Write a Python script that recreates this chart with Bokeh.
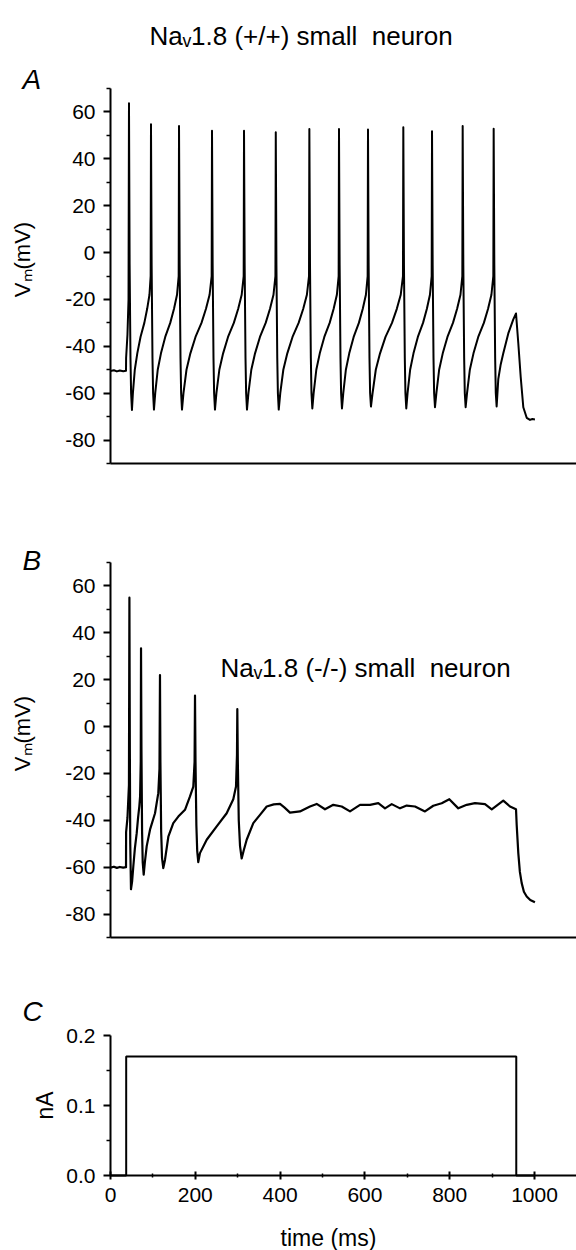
import math
from bokeh.plotting import figure
from bokeh.models import Range1d, FixedTicker, Label, LinearAxis
from bokeh.embed import file_html
from bokeh.resources import INLINE

FONT = "Liberation Sans"

# ---------------- data ----------------
# Panel A: Nav1.8 (+/+) membrane potential (ms, mV)
time_a = [0, 8, 15, 22, 30, 36.6, 36.8, 40, 42.5, 43.6,
          45.1, 47.1, 48.6, 50.6,
          52.8, 57.3, 63.2, 70.8, 79.8, 86.5, 91.9, 94.7, 95.5,
          97.0, 99.0, 100.5, 102.5,
          105.5, 111.4, 119.0, 129.1, 140.9, 149.8, 156.9, 160.8, 161.6,
          163.1, 165.1, 166.6, 168.6,
          172.1, 179.2, 188.4, 200.5, 214.6, 225.2, 233.7, 238.6, 239.4,
          240.9, 242.9, 244.4, 246.4,
          249.8, 256.7, 265.6, 277.2, 290.9, 301.2, 309.4, 314.1, 314.9,
          316.4, 318.4, 319.9, 321.9,
          325.3, 332.1, 340.9, 352.5, 366.0, 376.2, 384.4, 389.0, 389.8,
          391.3, 393.3, 394.8, 396.8,
          400.4, 407.6, 417.0, 429.3, 443.7, 454.6, 463.2, 468.2, 469.0,
          470.5, 472.5, 474.0, 476.0,
          479.1, 485.4, 493.6, 504.3, 516.9, 526.3, 533.9, 538.1, 538.9,
          540.4, 542.4, 543.9, 545.9,
          549.0, 555.1, 563.1, 573.5, 585.8, 595.0, 602.4, 606.5, 607.3,
          608.8, 610.8, 612.3, 614.3,
          618.1, 625.7, 635.7, 648.6, 663.9, 675.3, 684.5, 689.8, 690.6,
          692.1, 694.1, 695.6, 697.6,
          700.6, 706.7, 714.6, 724.9, 737.1, 746.2, 753.4, 757.5, 758.3,
          759.8, 761.8, 763.3, 765.3,
          768.6, 775.1, 783.6, 794.7, 807.7, 817.5, 825.4, 829.8, 830.6,
          832.1, 834.1, 835.6, 837.6,
          840.9, 847.5, 856.1, 867.3, 880.6, 890.5, 898.4, 902.9, 903.7,
          905.2, 907.2, 908.7, 910.7,
          914.6, 920, 926.4, 938.2, 950, 956.4, 961.8, 967.4, 973.6, 981.6, 989.4, 995, 1001]
vm_a = [-50.5, -50.2, -50.7, -50.3, -50.6, -50.4, -45, -35, -20, 63.7,
        -5, -45, -60, -67.2,
        -60, -50, -43, -36, -30, -24, -18, -10, 54.7,
        -5, -45, -60, -67,
        -60, -50, -43, -36, -30, -24, -18, -10, 54,
        -5, -45, -60, -67,
        -60, -50, -43, -36, -30, -24, -18, -10, 52,
        -5, -45, -60, -67,
        -60, -50, -43, -36, -30, -24, -18, -10, 52,
        -5, -45, -60, -67,
        -60, -50, -43, -36, -30, -24, -18, -10, 51.3,
        -5, -45, -60, -67,
        -60, -50, -43, -36, -30, -24, -18, -10, 52.7,
        -5, -45, -60, -66.5,
        -60, -50, -43, -36, -30, -24, -18, -10, 52.7,
        -5, -45, -60, -66.5,
        -60, -50, -43, -36, -30, -24, -18, -10, 52.5,
        -5, -45, -60, -65.7,
        -60, -50, -43, -36, -30, -24, -18, -10, 53.5,
        -5, -45, -60, -66.5,
        -60, -50, -43, -36, -30, -24, -18, -10, 51.8,
        -5, -45, -60, -66,
        -60, -50, -43, -36, -30, -24, -18, -10, 54,
        -5, -45, -60, -66,
        -60, -50, -43, -36, -30, -24, -18, -10, 52.8,
        -5, -45, -60, -65.7,
        -54, -48, -43, -34.5, -28.5, -26, -38.7, -53, -66, -70.5, -71.4, -71, -71.2]

# Panel B: Nav1.8 (-/-) membrane potential (ms, mV)
time_b = [0, 8, 15, 22, 30, 36.6, 36.8, 40, 43.5, 44.6,
          45.6, 46.6, 48.3,
          51, 53.8, 57.5, 61.8, 65, 68, 69.8, 71.3, 72,
          73, 74.5, 76, 78.3,
          81, 85.4, 93.2, 105, 112.7, 115.5, 116.7,
          117.7, 119.5, 121.5, 124.5,
          128.5, 136.4, 148.1, 159.9, 175.7, 187.5, 195.3, 198.3, 199.3,
          200.5, 202.5, 204.5, 207,
          211, 226.9, 250.5, 274, 289.6, 296, 298.3, 299.1,
          300.3, 302.5, 305.5, 309.4,
          314, 321.2, 336.8, 352.6, 368.4, 385, 399.8, 410, 423.3, 446.9,
          470.5, 486.3, 505.9, 525.5, 545.3, 564.9, 588.5, 612, 631.6, 647.4,
          663.2, 682.8, 698.6, 718.2, 741.7, 761.3, 781.1, 799.1, 820.3, 840.1,
          859.7, 883.3, 899.1, 926.4, 942.2, 956.4,
          958, 961.8, 965.5, 969.8, 975, 981.6, 990, 1001]
vm_b = [-60.2, -59.8, -60.3, -59.9, -60.2, -60, -45, -39, -25, 55,
        -10, -50, -69.4,
        -66, -59.7, -52, -45.5, -39, -34, -29.8, -15, 33.4,
        -10, -45, -58, -63.2,
        -58, -51, -44, -37, -28.4, -18, 22,
        -15, -45, -56, -60.4,
        -56.9, -47, -41.2, -38.4, -35.5, -29.8, -25.6, -15, 13.2,
        -15, -42, -53, -57.8,
        -54, -48.3, -42.6, -37, -31, -25.6, -12, 7.4,
        -15, -40, -51, -56.3,
        -53, -48.3, -41.2, -37.7, -34.1, -33.2, -33, -34.5, -36.7, -36.2,
        -34.1, -33, -35.3, -33.4, -34.1, -36.2, -33.4, -33.4, -32.7, -34.9,
        -33.1, -34.9, -33.7, -34.1, -36.2, -33.8, -32.7, -31, -34.9, -33.4,
        -32.7, -33.1, -35.3, -31.6, -34.1, -35.3,
        -42, -54, -62, -66.8, -70.5, -72.5, -74, -75]

# Panel C: injected current step (ms, nA)
time_c = [0, 37, 37, 957, 957, 1000]
current_c = [0, 0, 0.17, 0.17, 0, 0]

# ticks
vm_ticks = [-80, -60, -40, -20, 0, 20, 40, 60]
vm_minor = [-90, -70, -50, -30, -10, 10, 30, 50, 70]
na_ticks = [0.0, 0.1, 0.2]
na_labels = ["0.0", "0.1", "0.2"]
na_minor = [0.05, 0.15]
time_ticks = [0, 200, 400, 600, 800, 1000]
time_minor = [100, 300, 500, 700, 900]

# ---------------- page geometry (pixels) ----------------
W, H = 576, 1250
PX_PER_MS = 0.424
X0_PAGE = 110                       # page x of t = 0 ms
X_END = (W - X0_PAGE) / PX_PER_MS   # right edge of the axes in ms


def panel_range(v_low, v_high, page_low, page_high):
    """Range over the whole page height so that v_low sits at page_low, v_high at page_high."""
    k = (page_low - page_high) / (v_high - v_low)   # px per unit
    return Range1d(v_low - (H - page_low) / k, v_high + page_high / k)


p = figure(width=W, height=H, min_border=0,
           x_range=Range1d(-X0_PAGE / PX_PER_MS, X_END),
           y_range=Range1d(H, 0),          # page pixels, used for free texts
           x_axis_type=None, y_axis_type=None,
           toolbar_location=None, output_backend="svg")
p.outline_line_color = None
p.background_fill_color = "white"
p.border_fill_color = "white"
p.extra_x_ranges = {"page": Range1d(0, W)}
p.extra_y_ranges = {
    "A": panel_range(-90, 70, 463, 88),
    "B": panel_range(-90, 70, 937, 562),
    "C": panel_range(0, 0.2, 1175, 1035),
}


def style(ax):
    ax.axis_line_width = 2
    ax.axis_line_color = "black"
    ax.major_tick_line_width = 2
    ax.major_tick_line_color = "black"
    ax.minor_tick_line_width = 1.5
    ax.minor_tick_line_color = "black"
    ax.major_label_text_font = FONT
    ax.major_label_text_font_size = "21px"
    ax.major_label_text_color = "black"
    return ax


def y_axis(name, lo, hi, ticks, minor, labels):
    ax = style(LinearAxis(y_range_name=name, fixed_location=0, bounds=(lo, hi),
                          ticker=FixedTicker(ticks=ticks, minor_ticks=minor)))
    ax.major_label_overrides = dict(zip(ticks, labels))
    ax.major_tick_out = 7
    ax.major_tick_in = 0
    ax.minor_tick_out = 4
    ax.minor_tick_in = 0
    ax.major_label_standoff = 8
    p.add_layout(ax, "left")


def x_axis(name, at, ticks, minor):
    ax = style(LinearAxis(y_range_name=name, fixed_location=at, bounds=(0, X_END),
                          ticker=FixedTicker(ticks=ticks, minor_ticks=minor)))
    if ticks:
        ax.major_label_overrides = {t: str(t) for t in ticks}
        ax.major_tick_in = 4
        ax.major_tick_out = 4
        ax.minor_tick_in = 2
        ax.minor_tick_out = 2
        ax.major_label_standoff = 8
    else:
        ax.major_label_text_font_size = "0px"
        ax.major_tick_in = ax.major_tick_out = 0
        ax.minor_tick_in = ax.minor_tick_out = 0
    p.add_layout(ax, "below")


vm_labels = [str(t) for t in vm_ticks]
y_axis("A", -90, 70, vm_ticks, vm_minor, vm_labels)
x_axis("A", -90, [], [])
y_axis("B", -90, 70, vm_ticks, vm_minor, vm_labels)
x_axis("B", -90, [], [])
y_axis("C", 0, 0.2, na_ticks, na_minor, na_labels)
x_axis("C", 0, time_ticks, time_minor)

# traces
p.line(time_a, vm_a, y_range_name="A", line_color="black", line_width=2, line_join="round")
p.line(time_b, vm_b, y_range_name="B", line_color="black", line_width=2.2, line_join="round")
p.line(time_c, current_c, y_range_name="C", line_color="black", line_width=2)


def text(x, y, s, size, style="normal", align="left", baseline="alphabetic", angle=0.0):
    p.add_layout(Label(x=x, y=y, x_range_name="page", text=s, text_font=FONT,
                       text_font_size=size, text_font_style=style, text_color="black",
                       text_align=align, text_baseline=baseline, angle=angle))


NBSP = "\u00a0"
text(149, 35, "Naᵥ1.8 (+/+) small" + NBSP + " neuron", "26px")
text(220, 667, "Naᵥ1.8 (-/-) small" + NBSP + " neuron", "26px")
text(22, 79, "A", "28px", style="italic")
text(22, 560, "B", "28px", style="italic")
text(22, 1011, "C", "28px", style="italic")
text(22, 259, "Vₘ(mV)", "22px", align="center", baseline="middle", angle=math.pi / 2)
text(22, 733, "Vₘ(mV)", "22px", align="center", baseline="middle", angle=math.pi / 2)
text(44, 1105, "nA", "23px", align="center", baseline="middle", angle=math.pi / 2)
text(328, 1237, "time (ms)", "23px", align="center", baseline="middle")

open("out.html", "w").write(file_html(p, INLINE))
